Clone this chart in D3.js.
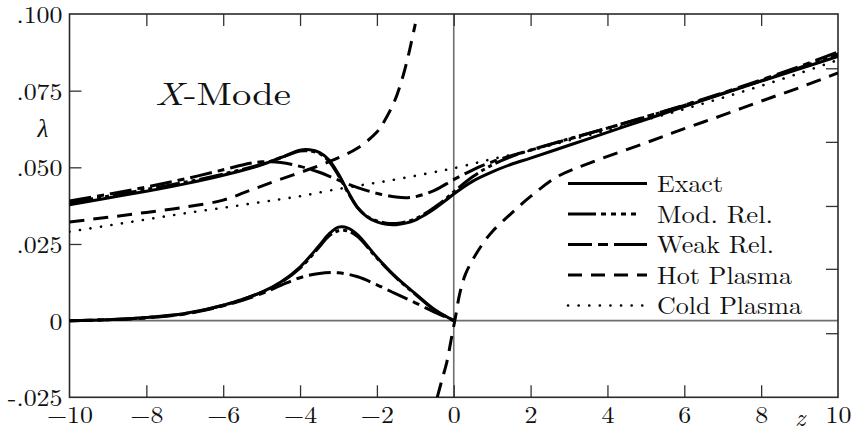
<!DOCTYPE html>
<html>
<head>
<meta charset="utf-8">
<script src="https://cdn.jsdelivr.net/npm/d3@7"></script>
<style>
  html, body { margin: 0; padding: 0; background: #fff; }
  svg { display: block; }
</style>
</head>
<body>
<svg id="chart" width="854" height="431"></svg>
<script>
// ---------------- DATA ----------------
const xTickValues = [-10, -8, -6, -4, -2, 0, 2, 4, 6, 8, 10];
const xTickLabels = ["\u221210", "\u22128", "\u22126", "\u22124", "\u22122", "0", "2", "4", "6", "8", "10"];
const yTickValues = [-0.025, 0, 0.025, 0.05, 0.075, 0.1];
const yTickLabels = ["-.025", "0", ".025", ".050", ".075", ".100"];
const rightTickValues = [0.0823, 0.0583, 0.0374, 0.0169, -0.0041];

// Exact (solid)
const exactUpper = [[-10,.0378],[-9,.0400],[-8,.0422],[-7,.0446],[-6,.0474],[-5,.0508],[-4.5,.0532],[-4,.0556],[-3.75,.0557],[-3.5,.0549],[-3.25,.0525],[-3,.0478],[-2.75,.0420],[-2.5,.0368],[-2.25,.0338],[-2,.0322],[-1.75,.0314],[-1.5,.0313],[-1.25,.0318],[-1,.0328],[-0.75,.0345],[-0.5,.0365],[-0.25,.0388],[0,.0413],[0.5,.0455],[1,.0485],[1.5,.0510],[2,.0530],[3,.0572],[4,.0614],[5,.0656],[6,.0698],[7,.0740],[8,.0781],[9,.0821],[10,.0862]];
const exactLower = [[-10,0],[-9,.0003],[-8,.0010],[-7,.0023],[-6,.0050],[-5,.0093],[-4.5,.0126],[-4,.0175],[-3.5,.0245],[-3.25,.0282],[-3,.0305],[-2.75,.0302],[-2.5,.0280],[-2,.0207],[-1.5,.0142],[-1,.0088],[-0.5,.0036],[0,0]];

// Mod. Rel. (dash-dot-dot)
const modUpper = [[-10,.0385],[-9,.0406],[-8,.0428],[-7,.0451],[-6,.0478],[-5,.0510],[-4.5,.0531],[-4,.0553],[-3.75,.0553],[-3.5,.0545],[-3.25,.0520],[-3,.0473],[-2.75,.0417],[-2.5,.0368],[-2.25,.0340],[-2,.0325],[-1.75,.0318],[-1.5,.0317],[-1.25,.0322],[-1,.0332],[-0.75,.0349],[-0.5,.0370],[-0.25,.0393],[0,.0420],[0.5,.0470],[1,.0508],[1.5,.0535],[2,.0556],[3,.0593],[4,.0628],[5,.0664],[6,.0702],[7,.0741],[8,.0782],[9,.0825],[10,.0870]];
const modLower = [[-10,0],[-9,.0003],[-8,.0010],[-7,.0023],[-6,.0050],[-5,.0092],[-4.5,.0124],[-4,.0171],[-3.5,.0240],[-3.25,.0276],[-3,.0293],[-2.75,.0292],[-2.5,.0274],[-2,.0204],[-1.5,.0140],[-1,.0086],[-0.5,.0035],[0,0]];

// Weak Rel. (long-short dash)
const weakUpper = [[-10,.0390],[-9,.0412],[-8,.0436],[-7,.0462],[-6,.0492],[-5.3,.0513],[-5,.0518],[-4.5,.0516],[-4,.0503],[-3.5,.0484],[-3,.0458],[-2.5,.0434],[-2,.0415],[-1.5,.0403],[-1.2,.0401],[-1,.0404],[-0.5,.0425],[0,.0460],[0.5,.0492],[1,.0518],[1.5,.0538],[2,.0556],[3,.0592],[4,.0628],[5,.0665],[6,.0703],[7,.0743],[8,.0785],[9,.0829],[10,.0876]];
const weakLower = [[-10,0],[-9,.0003],[-8,.0009],[-7,.0022],[-6,.0048],[-5,.0088],[-4.5,.0115],[-4,.0140],[-3.5,.0154],[-3,.0156],[-2.5,.0143],[-2,.0117],[-1.5,.0087],[-1,.0058],[-0.5,.0028],[0,0]];

// Hot Plasma (dashed)
const hotUpper = [[-10,.0322],[-9,.0337],[-8,.0353],[-7,.0370],[-6,.0393],[-5.3,.0425],[-4.6,.0457],[-3.8,.0492],[-3.1,.0526],[-2.5,.0563],[-2,.0615],[-1.8,.0652],[-1.55,.0713],[-1.35,.0785],[-1.2,.0855],[-1.1,.0910],[-1.0,.0968]];
const hotLower = [[-0.43,-.025],[-0.3,-.0190],[-0.18,-.0135],[-0.05,-.0050],[0.05,.0015],[0.15,.0085],[0.3,.0150],[0.5,.0200],[0.75,.0250],[1,.0290],[1.5,.0350],[2,.0405],[2.7,.0470],[3.6,.0517],[5,.0580],[6,.0626],[7,.0670],[8,.0716],[9,.0760],[10,.0808]];

// Cold Plasma (dotted)
const coldLine = [[-10,.0290],[-9,.0310],[-8,.0330],[-7,.0350],[-6,.0368],[-5.2,.0383],[-4.5,.0396],[-3.9,.0408],[-3.2,.0425],[-2.4,.0442],[-1.8,.0454],[-1.1,.0470],[-0.4,.0487],[0,.0497],[0.6,.0515],[1,.0527],[1.5,.0541],[2,.0555],[3,.0588],[4,.0621],[5,.0655],[6,.0690],[7,.0727],[8,.0766],[9,.0807],[10,.0850]];

const legendLabels = ["Exact", "Mod. Rel.", "Weak Rel.", "Hot Plasma", "Cold Plasma"];
const seriesKeys = ["exact", "mod", "weak", "hot", "cold"];

// ---------------- STYLES ----------------
const FONT = '"Latin Modern Roman", "Liberation Serif", serif';
const styles = {
  exact: { dash: null, width: 3 },
  mod:   { dash: "24,4,4,4,4,4", width: 3 },
  weak:  { dash: "22,6,7,6", width: 3 },
  hot:   { dash: "15,9", width: 3 },
  cold:  { dash: "0.1,10.5", width: 2.6 }
};
const legendDash = {
  exact: null,
  mod: "28,5,5,5,5,5,5,5,5,20",
  weak: "24,6,10,6,40",
  hot: "14,9",
  cold: "0.1,10.5"
};
const legendTextLen = [66, 116, 117, 135, 145];

// ---------------- LAYOUT ----------------
const L = 69.5, R = 838, T = 14, B = 397.3;
const svg = d3.select("#chart");
const x = d3.scaleLinear().domain([-10, 10]).range([L, R]);
const y = d3.scaleLinear().domain([-0.025, 0.1]).range([B, T]);

svg.append("defs").append("clipPath").attr("id", "clip")
  .append("rect").attr("x", L).attr("y", T).attr("width", R - L).attr("height", B - T);

// zero lines
svg.append("line").attr("x1", x(0)).attr("x2", x(0)).attr("y1", T).attr("y2", B)
  .attr("stroke", "#6e6e6e").attr("stroke-width", 1.6);
svg.append("line").attr("x1", L).attr("x2", R).attr("y1", y(0)).attr("y2", y(0))
  .attr("stroke", "#6e6e6e").attr("stroke-width", 1.6);

// axes (ticks inward)
const inner = xTickValues.filter(v => v > -10 && v < 10);
const gB = svg.append("g").attr("transform", `translate(0,${B})`)
  .call(d3.axisBottom(x).tickValues(xTickValues).tickSize(0).tickPadding(0)
    .tickFormat((d, i) => xTickLabels[i]));
gB.select(".domain").remove();
gB.selectAll("text").attr("y", 26).attr("dy", null)
  .style("font-size", "24px").attr("transform", "scale(1.08,1)");
svg.append("g").attr("transform", `translate(0,${B})`)
  .call(d3.axisBottom(x).tickValues(inner).tickSize(-12).tickFormat(""))
  .call(g => g.select(".domain").remove())
  .selectAll("line").attr("stroke", "#333").attr("stroke-width", 1.3);
svg.append("g").attr("transform", `translate(0,${T})`)
  .call(d3.axisTop(x).tickValues(inner).tickSize(-12).tickFormat(""))
  .call(g => g.select(".domain").remove())
  .selectAll("line").attr("stroke", "#333").attr("stroke-width", 1.3);

const gL = svg.append("g").attr("transform", `translate(${L},0)`)
  .call(d3.axisLeft(y).tickValues(yTickValues).tickSize(0).tickPadding(0)
    .tickFormat((d, i) => yTickLabels[i]));
gL.select(".domain").remove();
gL.selectAll("text").attr("x", -7).attr("dy", "0.35em")
  .style("font-size", "24px")
  .attr("transform", "translate(-7,0) scale(1.08,1) translate(7,0)");
svg.append("g").attr("transform", `translate(${L},0)`)
  .call(d3.axisLeft(y).tickValues(yTickValues.filter(v => v > -0.025 && v < 0.1 && v !== 0)).tickSize(-12).tickFormat(""))
  .call(g => g.select(".domain").remove())
  .selectAll("line").attr("stroke", "#333").attr("stroke-width", 1.3);
svg.append("g").attr("transform", `translate(${R},0)`)
  .call(d3.axisRight(y).tickValues(rightTickValues).tickSize(-12).tickFormat(""))
  .call(g => g.select(".domain").remove())
  .selectAll("line").attr("stroke", "#333").attr("stroke-width", 1.3);

// frame
svg.append("rect").attr("x", L).attr("y", T).attr("width", R - L).attr("height", B - T)
  .attr("fill", "none").attr("stroke", "#2a2a2a").attr("stroke-width", 1.6);

// curves
const line = d3.line().x(d => x(d[0])).y(d => y(d[1])).curve(d3.curveCatmullRom.alpha(0.5));
const curves = [
  { key: "cold", data: coldLine },
  { key: "hot", data: hotUpper },
  { key: "hot", data: hotLower },
  { key: "weak", data: weakUpper },
  { key: "weak", data: weakLower },
  { key: "mod", data: modUpper },
  { key: "mod", data: modLower },
  { key: "exact", data: exactUpper },
  { key: "exact", data: exactLower }
];
const gC = svg.append("g").attr("clip-path", "url(#clip)");
curves.forEach(c => {
  const s = styles[c.key];
  gC.append("path").attr("d", line(c.data))
    .attr("fill", "none").attr("stroke", "#000")
    .attr("stroke-width", s.width)
    .attr("stroke-dasharray", s.dash)
    .attr("stroke-linecap", c.key === "cold" ? "round" : "butt")
    .attr("stroke-linejoin", "round");
});

// legend
const lg = svg.append("g");
seriesKeys.forEach((k, i) => {
  const yy = 183.5 + i * 30.5;
  lg.append("line").attr("x1", 568).attr("x2", 647).attr("y1", yy).attr("y2", yy)
    .attr("stroke", "#000").attr("stroke-width", styles[k].width)
    .attr("stroke-dasharray", legendDash[k])
    .attr("stroke-linecap", k === "cold" ? "round" : "butt");
  lg.append("text").attr("x", 657).attr("y", yy + 8.5)
    .style("font-size", "24px")
    .attr("textLength", legendTextLen[i]).attr("lengthAdjust", "spacingAndGlyphs")
    .text(legendLabels[i]);
});

// title and axis names
const title = svg.append("text").attr("x", 155).attr("y", 105).style("font-size", "32px")
  .attr("textLength", 136).attr("lengthAdjust", "spacingAndGlyphs");
title.append("tspan").style("font-style", "italic").text("X");
title.append("tspan").text("-Mode");

svg.append("text").attr("x", 43).attr("y", 137).attr("text-anchor", "middle")
  .style("font-size", "25px").style("font-style", "italic").text("\u03bb");
svg.append("text").attr("x", 800).attr("y", 426).attr("text-anchor", "middle")
  .style("font-size", "25px").style("font-style", "italic").text("z");

// fonts applied directly to every text node
svg.selectAll("text").style("font-family", FONT).attr("fill", "#111");
</script>
</body>
</html>
